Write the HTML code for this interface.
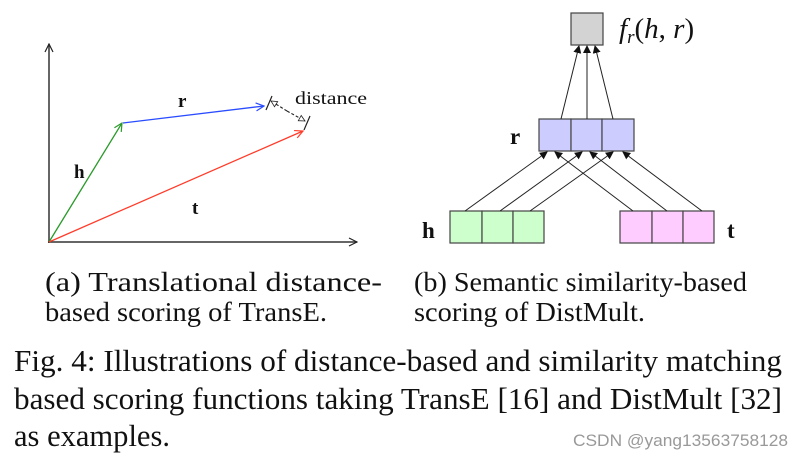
<!DOCTYPE html>
<html><head><meta charset="utf-8"><style>
html,body{margin:0;padding:0;background:#fff;width:800px;height:459px;overflow:hidden}
svg{display:block}
.s{font-family:"Liberation Serif",serif;fill:#111}
</style></head><body>
<svg width="800" height="459" viewBox="0 0 800 459" xmlns="http://www.w3.org/2000/svg">
<defs>
<marker id="ak" markerWidth="10" markerHeight="10" refX="9" refY="5" orient="auto" markerUnits="userSpaceOnUse"><path d="M1,1 L9,5 L1,9" fill="none" stroke="#222" stroke-width="1.2"/></marker>
<marker id="ag" markerWidth="10" markerHeight="10" refX="9" refY="5" orient="auto" markerUnits="userSpaceOnUse"><path d="M1,1 L9,5 L1,9" fill="none" stroke="#2a9a2a" stroke-width="1.2"/></marker>
<marker id="ab" markerWidth="10" markerHeight="10" refX="9" refY="5" orient="auto" markerUnits="userSpaceOnUse"><path d="M1,1 L9,5 L1,9" fill="none" stroke="#2a4cff" stroke-width="1.2"/></marker>
<marker id="ar" markerWidth="10" markerHeight="10" refX="9" refY="5" orient="auto" markerUnits="userSpaceOnUse"><path d="M1,1 L9,5 L1,9" fill="none" stroke="#ff3b2a" stroke-width="1.2"/></marker>
<marker id="af" markerWidth="8" markerHeight="8" refX="7" refY="4" orient="auto" markerUnits="userSpaceOnUse"><path d="M0,0 L8,4 L0,8 Z" fill="#111"/></marker>
<marker id="ad" markerWidth="8" markerHeight="8" refX="7" refY="4" orient="auto" markerUnits="userSpaceOnUse"><path d="M1,1 L7,4 L1,7 Z" fill="#fff" stroke="#222" stroke-width="0.8"/></marker>
</defs>
<line x1="49" y1="243" x2="49" y2="44" stroke="#333" stroke-width="1.5" marker-end="url(#ak)"/>
<line x1="48" y1="242" x2="357" y2="242" stroke="#333" stroke-width="1.5" marker-end="url(#ak)"/>
<line x1="49" y1="242" x2="122" y2="123" stroke="#2a9a2a" stroke-width="1.3" marker-end="url(#ag)"/>
<line x1="123" y1="123" x2="264" y2="106" stroke="#2a4cff" stroke-width="1.3" marker-end="url(#ab)"/>
<line x1="49" y1="242" x2="303" y2="131" stroke="#ff3b2a" stroke-width="1.3" marker-end="url(#ar)"/>
<line x1="266" y1="110" x2="272" y2="96" stroke="#222" stroke-width="1.2"/>
<line x1="304" y1="130" x2="310" y2="116" stroke="#222" stroke-width="1.2"/>
<line x1="287" y1="111" x2="271" y2="101" stroke="#222" stroke-width="1.1" stroke-dasharray="3,2" marker-end="url(#ad)"/>
<line x1="287" y1="111" x2="305" y2="121" stroke="#222" stroke-width="1.1" stroke-dasharray="3,2" marker-end="url(#ad)"/>
<text class="s" x="295" y="104" font-size="18" textLength="72" lengthAdjust="spacingAndGlyphs">distance</text>
<text class="s" x="178" y="107" font-size="19" font-weight="bold">r</text>
<text class="s" x="74" y="178" font-size="19" font-weight="bold">h</text>
<text class="s" x="192" y="214" font-size="19" font-weight="bold">t</text>
<rect x="571" y="13" width="32" height="32" fill="#d3d3d3" stroke="#444" stroke-width="1.2"/>
<text class="s" x="619" y="38" font-size="29" font-style="italic">f<tspan font-size="19" dy="5">r</tspan><tspan dy="-5" font-style="normal">(</tspan>h<tspan font-style="normal">, </tspan>r<tspan font-style="normal">)</tspan></text>
<g stroke="#444" stroke-width="1.2">
<rect x="539" y="119" width="32" height="32" fill="#ccccff"/><rect x="571" y="119" width="31" height="32" fill="#ccccff"/><rect x="602" y="119" width="32" height="32" fill="#ccccff"/>
<rect x="450" y="211" width="32" height="32" fill="#ccffcc"/><rect x="482" y="211" width="31" height="32" fill="#ccffcc"/><rect x="513" y="211" width="31" height="32" fill="#ccffcc"/>
<rect x="620" y="211" width="32" height="32" fill="#ffccff"/><rect x="652" y="211" width="31" height="32" fill="#ffccff"/><rect x="683" y="211" width="31" height="32" fill="#ffccff"/>
</g>
<g stroke="#222" stroke-width="1" marker-end="url(#af)">
<line x1="561" y1="119" x2="579" y2="46"/><line x1="587" y1="119" x2="587" y2="46"/><line x1="613" y1="119" x2="595" y2="46"/>
<line x1="465" y1="211" x2="547" y2="152"/><line x1="500" y1="211" x2="582" y2="152"/><line x1="530" y1="211" x2="613" y2="152"/>
<line x1="633" y1="211" x2="555" y2="152"/><line x1="667" y1="211" x2="590" y2="152"/><line x1="702" y1="211" x2="623" y2="152"/>
</g>
<text class="s" x="510" y="144" font-size="23" font-weight="bold">r</text>
<text class="s" x="422" y="238" font-size="23" font-weight="bold">h</text>
<text class="s" x="727" y="238" font-size="23" font-weight="bold">t</text>
<g class="s" font-size="27">
<text x="45" y="291" textLength="337" lengthAdjust="spacingAndGlyphs">(a)   Translational   distance-</text>
<text x="45" y="321" textLength="282" lengthAdjust="spacingAndGlyphs">based scoring of TransE.</text>
<text x="414" y="291" textLength="333" lengthAdjust="spacingAndGlyphs">(b) Semantic similarity-based</text>
<text x="414" y="321" textLength="231" lengthAdjust="spacingAndGlyphs">scoring of DistMult.</text>
</g>
<g class="s" font-size="31">
<text x="14" y="371" textLength="768" lengthAdjust="spacingAndGlyphs">Fig. 4: Illustrations of distance-based and similarity matching</text>
<text x="14" y="409" textLength="768" lengthAdjust="spacingAndGlyphs">based scoring functions taking TransE [16] and DistMult [32]</text>
<text x="14" y="446" textLength="156" lengthAdjust="spacingAndGlyphs">as examples.</text>
</g>
<text x="573" y="446" font-family="Liberation Sans,sans-serif" font-size="17" fill="#999" textLength="215" lengthAdjust="spacingAndGlyphs">CSDN @yang13563758128</text>
</svg>
</body></html>
